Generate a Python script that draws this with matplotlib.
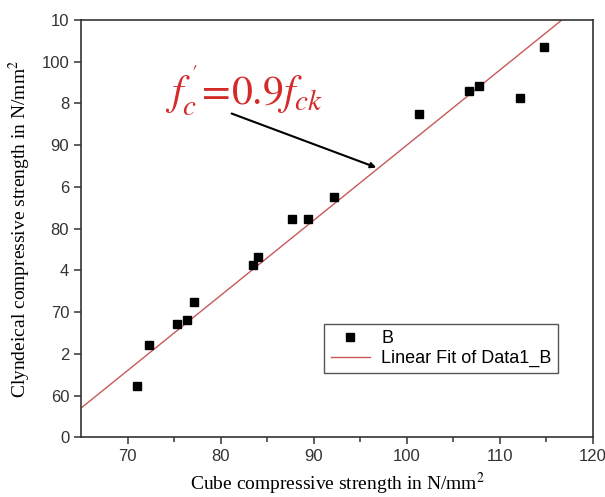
import matplotlib
matplotlib.use("Agg")
import matplotlib.pyplot as plt
import numpy as np

# data
cube_strength = [71.0, 72.3, 75.3, 76.4, 77.1, 83.5, 84.0, 87.7, 89.4, 92.2,
                 101.3, 106.7, 107.8, 112.2, 114.7]
cyl_strength = [61.2, 66.1, 68.6, 69.1, 71.2, 75.7, 76.6, 81.1, 81.1, 83.8,
                93.7, 96.5, 97.1, 95.7, 101.8]
fit_slope = 0.9
fit_intercept = 0.0

y_ticks = [55, 60, 65, 70, 75, 80, 85, 90, 95, 100, 105]
y_ticklabels = ["0", "60", "2", "70", "4", "80", "6", "90", "8", "100", "10"]
x_ticks = [70, 80, 90, 100, 110, 120]

plt.rcParams['font.family'] = ['Liberation Sans', 'DejaVu Sans']
plt.rcParams['mathtext.fontset'] = 'stix'

fig = plt.figure(figsize=(6.05, 4.97), dpi=100)
ax = fig.add_axes([0.1339, 0.120, 0.8463, 0.840])

xfit = np.array([65, 120])
ax.plot(xfit, fit_slope * xfit + fit_intercept, color='#c9585a', lw=1.0,
        label='Linear Fit of Data1_B', zorder=2)
ax.plot(cube_strength, cyl_strength, 's', color='black', ms=5.5,
        linestyle='none', label='B', zorder=3)

ax.set_xlim(65, 120)
ax.set_ylim(55, 105)
ax.set_xticks(x_ticks)
ax.set_xticks([75, 85, 95, 105, 115], minor=True)
ax.set_yticks(y_ticks)
ax.set_yticklabels(y_ticklabels)
ax.tick_params(axis='both', which='major', direction='out', length=5,
               width=1.1, labelsize=12, color='#333333', labelcolor='#333333')
ax.tick_params(axis='x', which='minor', direction='out', length=3.5,
               width=1.1, color='#333333')
for s in ax.spines.values():
    s.set_linewidth(1.2)
    s.set_color('#333333')

ax.set_xlabel('Cube compressive strength in N/mm$^2$', family='Liberation Serif',
              fontsize=14, labelpad=5)
ax.set_ylabel('Clyndeical compressive strength in N/mm$^2$', family='Liberation Serif',
              fontsize=14, labelpad=6)

ax.text(74.0, 94.8, r"$f_c^{\,'}\!=\!0.9f_{ck}$", color='#d42a2a', fontsize=30)
ax.annotate('', xy=(97.0, 87.2), xytext=(80.9, 93.9),
            arrowprops=dict(arrowstyle='-|>', color='black', lw=1.5,
                            mutation_scale=8))

h, l = ax.get_legend_handles_labels()
leg = ax.legend(h[::-1], l[::-1], loc='lower left', bbox_to_anchor=(0.475, 0.153),
                borderaxespad=0, fancybox=False, edgecolor='#555555', framealpha=1,
                fontsize=13, handlelength=2.2, borderpad=0.35, labelspacing=0.15,
                handletextpad=0.6)
leg.get_frame().set_linewidth(1.0)

fig.savefig('out.png', dpi=100)
